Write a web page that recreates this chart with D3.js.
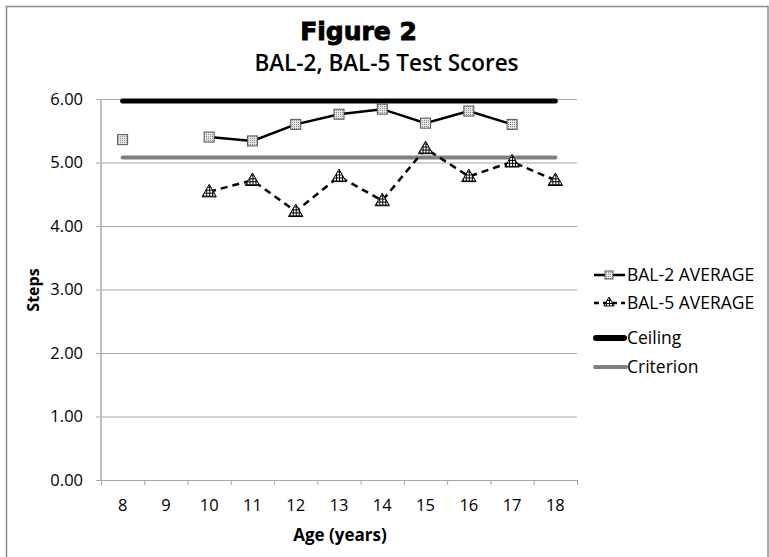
<!DOCTYPE html>
<html>
<head>
<meta charset="utf-8">
<script src="https://cdn.jsdelivr.net/npm/d3@7"></script>
<style>
  body { margin: 0; background: #fff; }
  svg { display: block; }
  text { font-family: "Open Sans", "Noto Sans", sans-serif; fill: #000; }
</style>
</head>
<body>
<script>
// data
let ages = ["8", "9", "10", "11", "12", "13", "14", "15", "16", "17", "18"];
let bal2 = [5.36, null, 5.40, 5.34, 5.60, 5.76, 5.84, 5.62, 5.81, 5.60, null];
let bal5 = [null, null, 4.54, 4.72, 4.23, 4.78, 4.40, 5.22, 4.78, 5.01, 4.72];
let ceiling = 5.97;
let criterion = 5.08;
let yTicks = [0, 1, 2, 3, 4, 5, 6];
let legendLabels = ["BAL-2 AVERAGE", "BAL-5 AVERAGE", "Ceiling", "Criterion"];

let W = 769, H = 557;
let plot = {left: 101, right: 577, top: 99, bottom: 480};

let svg = d3.select("body")
    .append("svg")
    .attr("width", W)
    .attr("height", H);

// patterns for the markers
let defs = svg.append("defs");
let dots = defs.append("pattern")
    .attr("id", "dots")
    .attr("patternUnits", "userSpaceOnUse")
    .attr("width", 2).attr("height", 2);
dots.append("rect").attr("width", 2).attr("height", 2).attr("fill", "#e6e6e6");
dots.append("rect").attr("width", 1).attr("height", 1).attr("fill", "#8c8c8c");

let grid = defs.append("pattern")
    .attr("id", "grid")
    .attr("patternUnits", "userSpaceOnUse")
    .attr("width", 3).attr("height", 3);
grid.append("rect").attr("width", 3).attr("height", 3).attr("fill", "#fff");
grid.append("path").attr("d", "M0,0.5H3M0.5,0V3").attr("stroke", "#000").attr("stroke-width", 1);

// outer frame
svg.append("rect")
    .attr("x", 6.5).attr("y", 6.5)
    .attr("width", 761.5).attr("height", 600)
    .attr("fill", "none")
    .attr("stroke", "#8c8c8c")
    .attr("stroke-width", 1.5);

// titles
svg.append("text")
    .attr("x", 358.5).attr("y", 40)
    .attr("text-anchor", "middle")
    .style("font-family", "'DejaVu Sans', sans-serif")
    .style("font-weight", "bold")
    .style("font-size", "25px")
    .style("stroke", "#000").style("stroke-width", 0.9)
    .text("Figure 2");

svg.append("text")
    .attr("x", 386.5).attr("y", 71)
    .attr("text-anchor", "middle")
    .style("font-size", "22.5px")
    .style("font-weight", 600)
    .text("BAL-2, BAL-5 Test Scores");

// scales
let x = d3.scaleBand()
    .domain(ages)
    .range([plot.left, plot.right])
    .padding(0);

let xEdges = d3.scaleLinear()
    .domain([0, ages.length])
    .range([plot.left, plot.right]);

let y = d3.scaleLinear()
    .domain([0, 6])
    .range([plot.bottom, plot.top]);

let cx = function(i) { return x(ages[i]) + x.bandwidth() / 2; };

// gridlines + y axis
let yAxis = svg.append("g")
    .attr("transform", "translate(" + plot.left + ",0)")
    .call(d3.axisLeft(y)
        .tickValues(yTicks)
        .tickFormat(d3.format(".2f"))
        .tickSize(5)
        .tickPadding(13));
yAxis.select(".domain").remove();
yAxis.selectAll(".tick line").attr("stroke", "#a6a6a6");
yAxis.selectAll(".tick").append("line")
    .attr("x1", 0).attr("x2", plot.right - plot.left)
    .attr("stroke", "#a6a6a6");
yAxis.selectAll("text")
    .style("font-size", "16.5px")
    .style("font-family", "'Open Sans', sans-serif")
    .attr("fill", "#000");

svg.append("line")
    .attr("x1", plot.left).attr("x2", plot.left)
    .attr("y1", plot.top).attr("y2", plot.bottom)
    .attr("stroke", "#bfbfbf")
    .attr("stroke-width", 2);

// x axis: ticks on the category edges, labels centred
let xTickAxis = svg.append("g")
    .attr("transform", "translate(0," + plot.bottom + ")")
    .call(d3.axisBottom(xEdges).ticks(ages.length).tickSize(5).tickFormat(""));
xTickAxis.select(".domain").attr("stroke", "#a6a6a6");
xTickAxis.selectAll(".tick line").attr("stroke", "#a6a6a6");

let xAxis = svg.append("g")
    .attr("transform", "translate(0," + plot.bottom + ")")
    .call(d3.axisBottom(x).tickSize(0).tickPadding(19));
xAxis.select(".domain").remove();
xAxis.selectAll("text")
    .style("font-size", "16.5px")
    .style("font-family", "'Open Sans', sans-serif")
    .attr("fill", "#000");

// axis titles
svg.append("text")
    .attr("x", (plot.left + plot.right) / 2 + 1)
    .attr("y", 541)
    .attr("text-anchor", "middle")
    .style("font-size", "17px")
    .style("font-weight", "bold")
    .text("Age (years)");

svg.append("text")
    .attr("transform", "translate(39,290) rotate(-90)")
    .attr("text-anchor", "middle")
    .style("font-size", "16px")
    .style("font-weight", "bold")
    .text("Steps");

// reference lines
svg.append("line")
    .attr("x1", cx(0)).attr("x2", cx(ages.length - 1))
    .attr("y1", y(ceiling)).attr("y2", y(ceiling))
    .attr("stroke", "#000").attr("stroke-width", 5)
    .attr("stroke-linecap", "round");

svg.append("line")
    .attr("x1", cx(0)).attr("x2", cx(ages.length - 1))
    .attr("y1", y(criterion)).attr("y2", y(criterion))
    .attr("stroke", "#808080").attr("stroke-width", 4)
    .attr("stroke-linecap", "round");

// series lines
let line = d3.line()
    .defined(function(d) { return d != null; })
    .x(function(d, i) { return cx(i); })
    .y(function(d) { return y(d); });

svg.append("path")
    .datum(bal2)
    .attr("fill", "none")
    .attr("stroke", "#000")
    .attr("stroke-width", 2.5)
    .attr("d", line);

svg.append("path")
    .datum(bal5)
    .attr("fill", "none")
    .attr("stroke", "#000")
    .attr("stroke-width", 2.5)
    .attr("stroke-dasharray", "7,5")
    .attr("d", line);

// markers
let tri = d3.symbol().type(d3.symbolTriangle).size(90);

svg.append("g").selectAll("rect")
    .data(bal2.map(function(v, i) { return {v: v, i: i}; }).filter(function(d) { return d.v != null; }))
    .join("rect")
    .attr("x", function(d) { return cx(d.i) - 5; })
    .attr("y", function(d) { return y(d.v) - 5; })
    .attr("width", 10).attr("height", 10)
    .attr("fill", "url(#dots)")
    .attr("stroke", "#555")
    .attr("stroke-width", 1);

svg.append("g").selectAll("path")
    .data(bal5.map(function(v, i) { return {v: v, i: i}; }).filter(function(d) { return d.v != null; }))
    .join("path")
    .attr("d", tri)
    .attr("transform", function(d) { return "translate(" + cx(d.i) + "," + (y(d.v) + 1) + ")"; })
    .attr("fill", "url(#grid)")
    .attr("stroke", "#000")
    .attr("stroke-width", 1);

// legend
let legendY = [275, 303, 338, 367];
let lg = svg.append("g");
legendLabels.forEach(function(lab, k) {
    let ly = legendY[k];
    let item = lg.append("g");
    if (k == 0) {
        item.append("line").attr("x1", 594).attr("x2", 625).attr("y1", ly).attr("y2", ly)
            .attr("stroke", "#000").attr("stroke-width", 2.5);
        item.append("rect").attr("x", 605).attr("y", ly - 4).attr("width", 8).attr("height", 8)
            .attr("fill", "url(#dots)").attr("stroke", "#555");
    } else if (k == 1) {
        item.append("line").attr("x1", 594).attr("x2", 625).attr("y1", ly).attr("y2", ly)
            .attr("stroke", "#000").attr("stroke-width", 2.5).attr("stroke-dasharray", "5,4");
        item.append("path").attr("d", d3.symbol().type(d3.symbolTriangle).size(45))
            .attr("transform", "translate(609," + ly + ")")
            .attr("fill", "url(#grid)").attr("stroke", "#000");
    } else if (k == 2) {
        item.append("line").attr("x1", 596).attr("x2", 624).attr("y1", ly).attr("y2", ly)
            .attr("stroke", "#000").attr("stroke-width", 6).attr("stroke-linecap", "round");
    } else {
        item.append("line").attr("x1", 595).attr("x2", 626).attr("y1", ly).attr("y2", ly)
            .attr("stroke", "#808080").attr("stroke-width", 4).attr("stroke-linecap", "round");
    }
    item.append("text")
        .attr("x", 627).attr("y", ly + 6)
        .style("font-size", "17.5px")
        .text(lab);
});
</script>
</body>
</html>
